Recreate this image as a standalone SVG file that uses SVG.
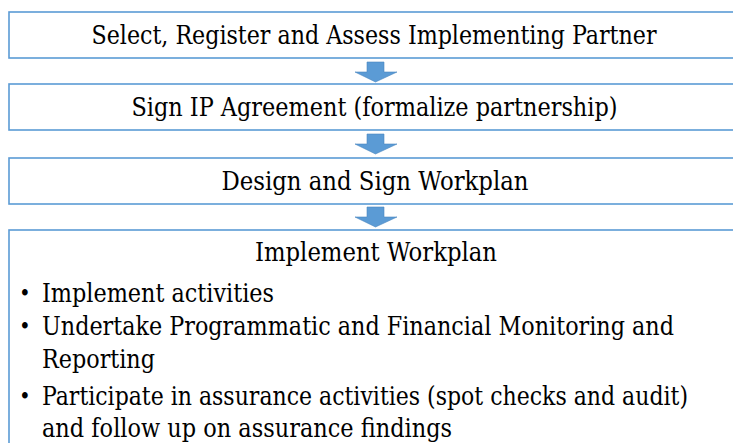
<svg xmlns="http://www.w3.org/2000/svg" width="733" height="443" viewBox="0 0 733 443">
<style>
.box{fill:#ffffff;stroke:#5b9bd5;stroke-width:1.6}
.t{font-family:'DejaVu Serif Condensed','DejaVu Serif',serif;font-stretch:condensed;font-size:26px;fill:#000}
.b{font-size:22px}
.c{text-anchor:middle}
.arr{fill:#5b9bd5;stroke:#4a86c0;stroke-width:0.6}
</style>
<rect width="733" height="443" fill="#ffffff"/>
<g id="connectors">
<polygon class="arr" points="367,62 384,62 384,72 397,72 375.5,82 355,72 367,72"/>
<polygon class="arr" points="367,134 384,134 384,144 397,144 375.5,154 355,144 367,144"/>
<polygon class="arr" points="367,207 384,207 384,217 397,217 375.5,227 355,217 367,217"/>
</g>
<g id="node1">
<rect class="box" x="9" y="12" width="740" height="46"/>
<text class="t c" x="374" y="44" textLength="565" lengthAdjust="spacingAndGlyphs">Select, Register and Assess Implementing Partner</text>
</g>
<g id="node2">
<rect class="box" x="9" y="84" width="740" height="46"/>
<text class="t c" x="374.5" y="116" textLength="486" lengthAdjust="spacingAndGlyphs">Sign IP Agreement (formalize partnership)</text>
</g>
<g id="node3">
<rect class="box" x="9" y="158" width="740" height="46"/>
<text class="t c" x="375" y="190" textLength="307" lengthAdjust="spacingAndGlyphs">Design and Sign Workplan</text>
</g>
<g id="node4">
<rect class="box" x="9" y="230" width="740" height="230"/>
<text class="t c" x="376" y="261" textLength="242" lengthAdjust="spacingAndGlyphs">Implement Workplan</text>
<text class="t b" x="19" y="301">•</text>
<text class="t" x="42" y="302" textLength="232" lengthAdjust="spacingAndGlyphs">Implement activities</text>
<text class="t b" x="19" y="334">•</text>
<text class="t" x="42" y="335" textLength="632" lengthAdjust="spacingAndGlyphs">Undertake Programmatic and Financial Monitoring and</text>
<text class="t" x="42" y="368" textLength="113" lengthAdjust="spacingAndGlyphs">Reporting</text>
<text class="t b" x="19" y="404">•</text>
<text class="t" x="42" y="405" textLength="646" lengthAdjust="spacingAndGlyphs">Participate in assurance activities (spot checks and audit)</text>
<text class="t" x="42" y="437" textLength="410" lengthAdjust="spacingAndGlyphs">and follow up on assurance findings</text>
</g>
</svg>
